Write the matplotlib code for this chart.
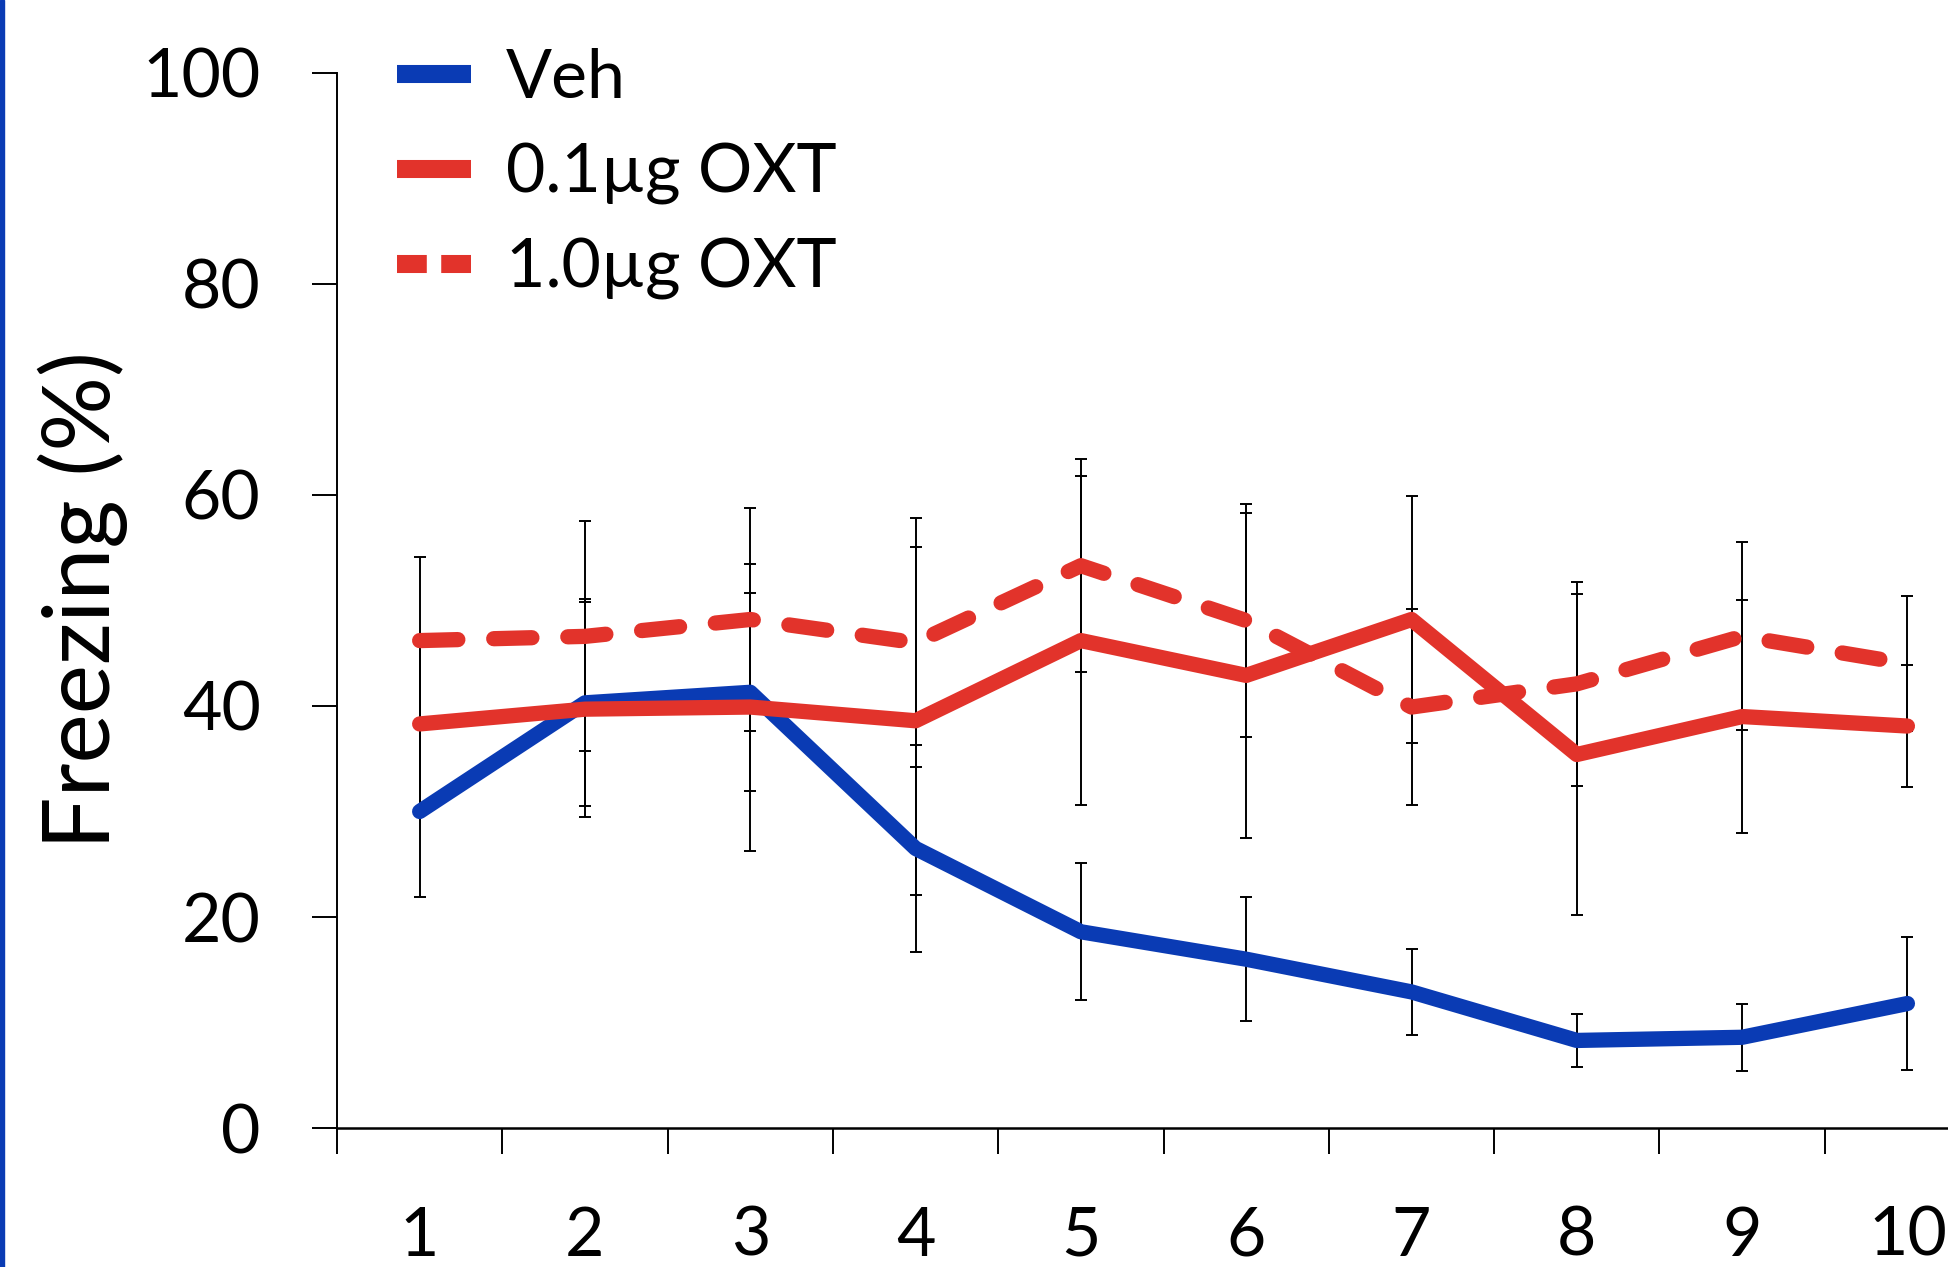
import matplotlib
matplotlib.use("Agg")
import matplotlib.pyplot as plt
from matplotlib.lines import Line2D
from matplotlib.patches import Rectangle

plt.rcParams['font.family'] = ['Lato', 'DejaVu Sans']

trials = [1, 2, 3, 4, 5, 6, 7, 8, 9, 10]
veh = [30.0, 40.3, 41.3, 26.5, 18.6, 16.0, 12.9, 8.3, 8.6, 11.8]
veh_err = [8.1, 9.8, 9.4, 9.8, 6.5, 5.9, 4.1, 2.5, 3.2, 6.3]
oxt01 = [38.3, 39.7, 39.9, 38.6, 46.2, 42.9, 48.2, 35.4, 39.0, 38.1]
oxt01_err = [8.0, 10.2, 13.6, 16.5, 15.6, 15.4, 11.7, 15.2, 11.0, 5.8]
oxt10 = [46.2, 46.6, 48.2, 46.0, 53.3, 48.1, 39.9, 42.1, 46.6, 44.0]
oxt10_err = [7.9, 10.9, 10.6, 11.8, 10.1, 11.0, 9.3, 9.7, 8.9, 6.4]
labels = ['Veh', '0.1µg OXT', '1.0µg OXT']

blue = '#0a3bb4'
red = '#e2332b'

fig = plt.figure(figsize=(19.48, 12.67), dpi=100)
ax = fig.add_axes([0.173, 0.1097, 0.8486, 0.8327])

# error bars sit under the lines
for y, e in [(veh, veh_err), (oxt01, oxt01_err), (oxt10, oxt10_err)]:
    ax.errorbar(trials, y, yerr=e, fmt='none', ecolor='black',
                elinewidth=1.4, capsize=4.3, capthick=1.4, zorder=1)

ax.plot(trials, veh, color=blue, lw=11, solid_capstyle='round',
        solid_joinstyle='round', zorder=3)
ax.plot(trials, oxt01, color=red, lw=11, solid_capstyle='round',
        solid_joinstyle='round', zorder=4)
ax.plot(trials, oxt10, color=red, lw=11, dashes=(2.5, 2.35),
        dash_capstyle='round', dash_joinstyle='round', zorder=2.5)

ax.set_xlim(0.5, 10.5)
ax.set_ylim(0, 100)
ax.set_yticks([0, 20, 40, 60, 80, 100])
ax.tick_params(axis='y', direction='out', length=18, width=1.4,
               labelsize=49, pad=37)

ax.set_xticks([t - 0.5 for t in trials] + [10.5])
ax.set_xticklabels([])
ax.set_xticks(trials, minor=True)
ax.set_xticklabels([str(t) for t in trials], minor=True)
ax.tick_params(axis='x', which='major', direction='out', length=19, width=1.4)
ax.tick_params(axis='x', which='minor', length=0, labelsize=49, pad=56)

ax.spines['top'].set_visible(False)
ax.spines['right'].set_visible(False)
ax.spines['left'].set_linewidth(1.4)
ax.spines['bottom'].set_linewidth(1.8)

ax.set_ylabel('Freezing (%)', fontsize=67, labelpad=10)

handles = [
    Line2D([], [], color=blue, lw=13, solid_capstyle='butt'),
    Line2D([], [], color=red, lw=13, solid_capstyle='butt'),
    Line2D([], [], color=red, lw=13, dashes=(1.65, 0.8), dash_capstyle='butt'),
]
fig.legend(handles, labels, loc='upper left',
           bbox_to_anchor=(397 / 1948, 1 - 48 / 1267), frameon=False,
           fontsize=49, handlelength=1.08, handletextpad=0.52,
           labelspacing=0.48, borderpad=0, borderaxespad=0)

fig.patches.append(Rectangle((0, 0), 4 / 1948, 1, transform=fig.transFigure,
                             color=blue, zorder=10))

fig.savefig('out.png', dpi=100)
